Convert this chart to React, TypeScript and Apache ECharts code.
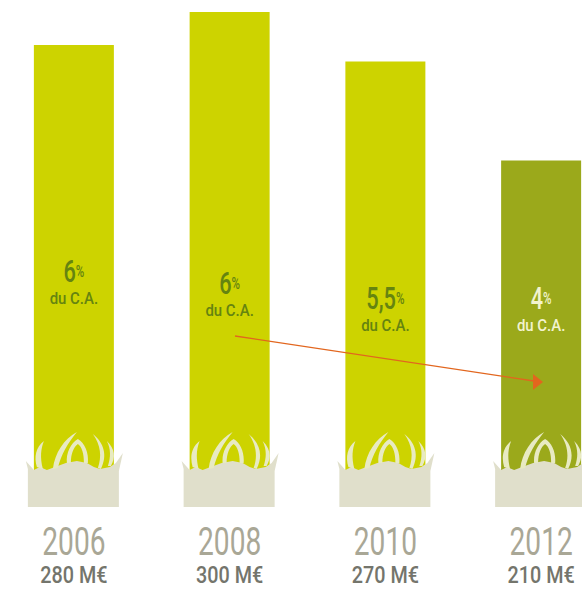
import React, { useEffect, useRef } from "react";
import * as echarts from "echarts";

const years = ["2006", "2008", "2010", "2012"];
const budgets = [280, 300, 270, 210];
const budgetLabels = ["280 M€", "300 M€", "270 M€", "210 M€"];
const shares = ["6", "6", "5,5", "4"];
const shareAnchors = [142.7, 135.5, 126.4, 126.4];

const FONT = "Roboto";
const BAR = "#CDD300";
const BAR_LAST = "#9BA91B";
const TEXT_DARK = "#658410";
const TEXT_LIGHT = "#F2F3CF";

const BODY =
  "M-46,0 L-46,-38 L-48,-46 L-40,-37 L-34,-40 L-27,-37 L-19,-40 L-8,-44 L3,-46 L13,-44 L20,-40 L26,-38 L36,-40 L42,-44 L49,-54 L45,-36 L45,0 Z";
const BLADES =
  "M-37,-40 C-40,-50 -38,-60 -30,-66 C-33,-58 -34,-50 -31,-38 Z " +
  "M-21,-38 C-19,-54 -10,-68 3,-75 C-6,-64 -13,-52 -16,-39 Z " +
  "M-7,-44 C-8,-54 -3,-64 4,-68 C11,-64 15,-54 14,-44 L10,-44 C10,-54 8,-60 4,-63 C0,-60 -3,-54 -3,-44 Z " +
  "M19,-73 C30,-64 34,-52 27,-38 L24,-39 C28,-50 27,-62 19,-73 Z " +
  "M33,-66 C41,-58 42,-50 37,-41 L34,-41 C37,-50 37,-58 33,-66 Z";

export default function App() {
  const ref = useRef<HTMLDivElement>(null);
  useEffect(() => {
    const chart = echarts.init(ref.current!, null, { renderer: "svg" });
    chart.setOption({
      animation: false,
      backgroundColor: "#ffffff",
      grid: { left: -4, top: 12, width: 623, height: 495, outerBoundsMode: "none" },
      xAxis: {
        type: "category",
        data: years,
        axisLine: { show: false },
        axisTick: { show: false },
        axisLabel: { show: false },
      },
      yAxis: { type: "value", min: 0, max: 300, show: false, splitLine: { show: false } },
      series: [
        {
          type: "bar",
          barWidth: 80,
          data: budgets.map((v, i) => ({
            value: v,
            itemStyle: { color: i === 3 ? BAR_LAST : BAR },
          })),
        },
        {
          type: "custom",
          z: 3,
          silent: true,
          clip: false,
          data: years.map((_, i) => [i, 0]),
          encode: { x: 0, y: 1 },
          renderItem: (_p: any, api: any) => {
            const i = api.value(0);
            const [cx, cy] = api.coord([i, 0]);
            const [, ay] = api.coord([i, shareAnchors[i]]);
            const col = i === 3 ? TEXT_LIGHT : TEXT_DARK;
            const txt = (y: number, scaleX: number, style: any) => ({
              type: "text",
              x: cx,
              y,
              scaleX,
              style: { fontFamily: FONT, align: "center", verticalAlign: "middle", ...style },
            });
            return {
              type: "group",
              children: [
                { type: "path", x: cx, y: cy, shape: { pathData: BODY }, style: { fill: "#E0DFCB" } },
                { type: "path", x: cx, y: cy, shape: { pathData: BLADES }, style: { fill: "#E8EAC2" } },
                txt(ay, 0.68, {
                  text: `{n|${shares[i]}}{p|%}`,
                  rich: {
                    n: { fontFamily: FONT, fontSize: 32, fontWeight: 500, fill: col, color: col },
                    p: { fontFamily: FONT, fontSize: 17, fontWeight: 500, fill: col, color: col },
                  },
                }),
                txt(ay + 26.5, 0.88, { text: "du C.A.", fontSize: 17, fontWeight: 500, fill: col }),
                txt(cy + 34.5, 0.74, { text: years[i], fontSize: 38, fontWeight: 400, fill: "#A9A796" }),
                txt(cy + 68, 0.86, { text: budgetLabels[i], fontSize: 23, fontWeight: 500, fill: "#74756C" }),
              ],
            };
          },
        },
      ],
      graphic: [
        { type: "line", z: 10, shape: { x1: 235, y1: 336, x2: 534, y2: 381 }, style: { stroke: "#E2661E", lineWidth: 1.3 } },
        { type: "polygon", z: 10, shape: { points: [[533, 374], [543, 382], [533, 390]] }, style: { fill: "#E2661E" } },
      ],
    });
    return () => chart.dispose();
  }, []);
  return <div ref={ref} style={{ position: "absolute", left: 0, top: 0, width: 582, height: 589 }} />;
}
